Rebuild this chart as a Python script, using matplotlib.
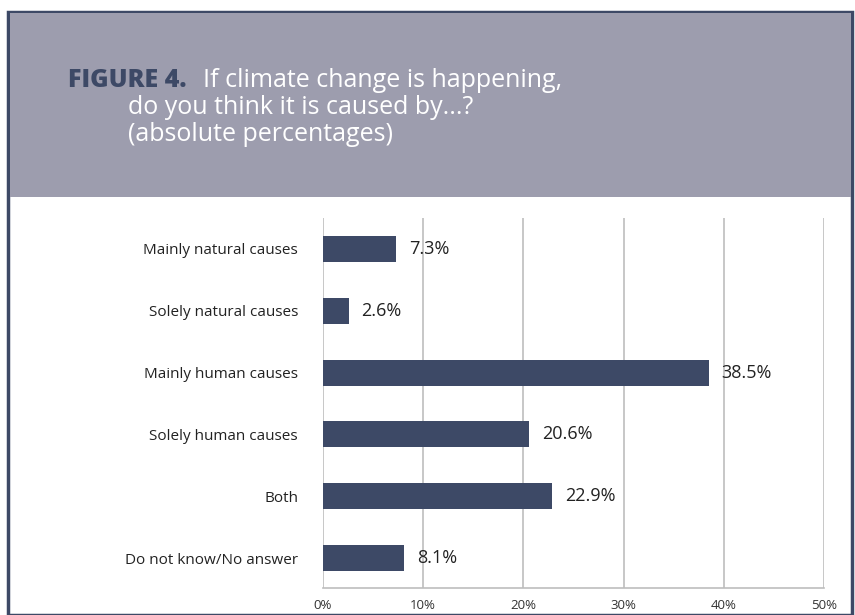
import matplotlib.pyplot as plt
from matplotlib.patches import Rectangle

# survey answers, top to bottom
categories = ['Mainly natural causes', 'Solely natural causes', 'Mainly human causes',
              'Solely human causes', 'Both', 'Do not know/No answer']
shares = [7.3, 2.6, 38.5, 20.6, 22.9, 8.1]
ticks = [0, 10, 20, 30, 40, 50]

navy = '#3d4966'
band = '#9d9dae'

plt.rcParams['font.family'] = ['Open Sans', 'DejaVu Sans']

fig = plt.figure(figsize=(8.55, 6.15), dpi=100)
W, H = 855, 615

# frame and grey header band
fig.patches.append(Rectangle((8 / W, 0), 844 / W, (H - 12) / H, transform=fig.transFigure,
                             facecolor='white', edgecolor=navy, linewidth=2.5, zorder=-2))
fig.patches.append(Rectangle((9.5 / W, (H - 197) / H), 841 / W, 184 / H, transform=fig.transFigure,
                             facecolor=band, edgecolor='none', zorder=-1))

fig.text(68 / W, 1 - 87 / H, 'FIGURE 4.', color=navy, fontsize=18, fontweight='heavy',
         va='baseline', ha='left')
fig.text(203 / W, 1 - 87 / H, 'If climate change is happening,', color='white', fontsize=18,
         va='baseline', ha='left')
fig.text(128 / W, 1 - 114 / H, 'do you think it is caused by...?', color='white', fontsize=18,
         va='baseline', ha='left')
fig.text(128 / W, 1 - 141 / H, '(absolute percentages)', color='white', fontsize=18,
         va='baseline', ha='left')

ax = fig.add_axes([323 / W, 1 - 588 / H, 501 / W, 370 / H])
ax.set_zorder(2)
y = list(range(len(categories)))
ax.barh(y, shares, height=0.42, color=navy, zorder=3)
for yi, v in zip(y, shares):
    ax.annotate(f'{v}%', xy=(v, yi), xytext=(9, 0), textcoords='offset points',
                va='center', ha='left', fontsize=13, color='#222222', zorder=4)

ax.set_xlim(0, 50)
ax.set_ylim(5.485, -0.5)
ax.set_xticks(ticks)
ax.set_xticklabels([f'{t}%' for t in ticks], fontsize=9.5, color='#333333')
ax.set_yticks(y)
ax.set_yticklabels(categories, fontsize=11, color='#222222')
ax.tick_params(axis='y', length=0, pad=18)
ax.tick_params(axis='x', length=0, pad=8)
ax.grid(axis='x', color='#bdbdbd', linewidth=1.2, zorder=0)
for s in ['top', 'right', 'left']:
    ax.spines[s].set_visible(False)
ax.spines['bottom'].set_color('#bdbdbd')
ax.spines['bottom'].set_linewidth(1.2)

fig.savefig('out.png', dpi=100)
